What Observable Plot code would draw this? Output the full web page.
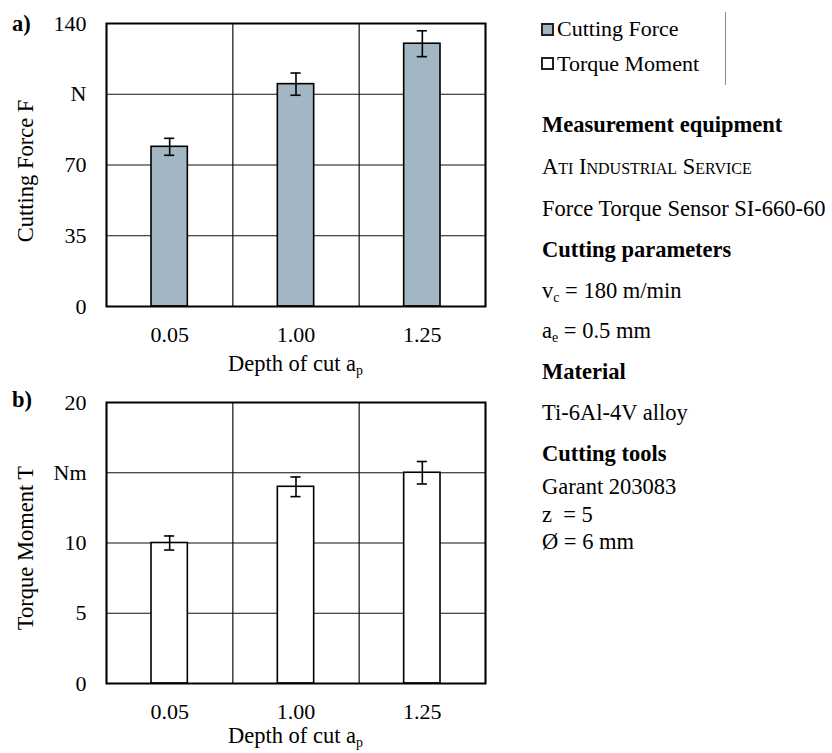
<!DOCTYPE html>
<html>
<head>
<meta charset="utf-8">
<script src="https://cdn.jsdelivr.net/npm/d3@7"></script>
<script src="https://cdn.jsdelivr.net/npm/@observablehq/plot@0.6"></script>
<style>
  html, body { margin: 0; padding: 0; background: #fff; }
  body { width: 832px; height: 753px; position: relative; overflow: hidden;
         font-family: "Liberation Serif", "Times New Roman", serif; font-size: 22.5px; color: #000; }
  .abs { position: absolute; white-space: nowrap; line-height: 24px; }
  .b { font-weight: bold; }
  sub { font-size: 0.62em; vertical-align: -0.3em; line-height: 0; }
  .sq { position: absolute; width: 9px; height: 9px; border: 2px solid #222; }
  #c1, #c2 { position: absolute; left: 0; }
  #c1 { top: 0; } #c2 { top: 380px; }
</style>
</head>
<body>
<div id="c1"></div>
<div id="c2"></div>
<script>
// ---- data ----
const depths = ["0.05", "1.00", "1.25"];
const cuttingForce = [79, 110, 130];
const cuttingForceErr = [4.2, 5.5, 6.4];
const torqueMoment = [10.0, 14.0, 15.0];
const torqueMomentErr = [0.5, 0.7, 0.8];
const forceTicks = [0, 35, 70, 105, 140];
const forceTickLabels = ["0", "35", "70", "N", "140"];
const torqueTicks = [0, 5, 10, 15, 20];
const torqueTickLabels = ["0", "5", "10", "Nm", "20"];
const seriesNames = ["Cutting Force", "Torque Moment"];
const seriesColors = ["#a2b6c4", "#ffffff"];

function chart({values, errs, ticks, tickLabels, fill, ylabel, marginTop, marginBottom, height, labelDy}) {
  const data = depths.map((d, i) => ({i, d, v: values[i], e: errs[i]}));
  const bounds = d3.range(depths.length + 1);
  const cap = 0.04;
  return Plot.plot({
    width: 520, height, marginLeft: 106, marginRight: 35, marginTop, marginBottom,
    style: {fontFamily: "'Liberation Serif', serif", fontSize: "22px", color: "#000", background: "transparent", overflow: "visible"},
    x: {domain: [0, depths.length]},
    y: {domain: [ticks[0], ticks[ticks.length - 1]]},
    marks: [
      Plot.ruleY(ticks, {stroke: "#111", strokeWidth: 1.2}),
      Plot.ruleX(bounds, {stroke: "#111", strokeWidth: 1.2}),
      Plot.rectY(data, {x1: d => d.i, x2: d => d.i + 1, y: "v", insetLeft: 45, insetRight: 45, fill, stroke: "#000", strokeWidth: 1.6}),
      Plot.ruleX(data, {x: d => d.i + 0.5, y1: d => d.v - d.e, y2: d => d.v + d.e, stroke: "#000", strokeWidth: 1.6}),
      Plot.ruleY(data, {y: d => d.v + d.e, x1: d => d.i + 0.5 - cap, x2: d => d.i + 0.5 + cap, stroke: "#000", strokeWidth: 1.6}),
      Plot.ruleY(data, {y: d => d.v - d.e, x1: d => d.i + 0.5 - cap, x2: d => d.i + 0.5 + cap, stroke: "#000", strokeWidth: 1.6}),
      Plot.frame({stroke: "#000", strokeWidth: 2}),
      Plot.axisY({ticks, tickFormat: v => tickLabels[ticks.indexOf(v)], tickSize: 0, tickPadding: 20, label: null}),
      Plot.axisX({ticks: depths.map((d, i) => i + 0.5), tickFormat: v => depths[Math.floor(v)], tickSize: 0, tickPadding: 20, label: null}),
      Plot.text([ylabel], {frameAnchor: "left", rotate: -90, textAnchor: "middle", dx: -81, dy: labelDy, fontSize: 22.5})
    ]
  });
}

document.getElementById("c1").append(chart({
  values: cuttingForce, errs: cuttingForceErr, ticks: forceTicks, tickLabels: forceTickLabels,
  fill: seriesColors[0], ylabel: "Cutting Force F", marginTop: 23, marginBottom: 74, height: 380, labelDy: 6
}));
document.getElementById("c2").append(chart({
  values: torqueMoment, errs: torqueMomentErr, ticks: torqueTicks, tickLabels: torqueTickLabels,
  fill: seriesColors[1], ylabel: "Torque Moment T", marginTop: 22, marginBottom: 70, height: 373, labelDy: 5
}));

// ---- annotations (HTML text), positioned by baseline ----
function add(html, left, baseline, cls = "", size = 22.5) {
  const el = document.createElement("div");
  el.className = "abs " + cls;
  el.style.left = left + "px";
  el.style.fontSize = size + "px";
  const content = 1.107 * size;
  el.style.top = (baseline - ((24 - content) / 2 + 0.891 * size)) + "px";
  el.innerHTML = html;
  document.body.append(el);
  return el;
}
add("a)", 12, 32, "b");
add("b)", 12, 408, "b");
const xl1 = add("Depth of cut a<sub>p</sub>", 106, 372);
xl1.style.width = "379px"; xl1.style.textAlign = "center";
const xl2 = add("Depth of cut a<sub>p</sub>", 106, 744);
xl2.style.width = "379px"; xl2.style.textAlign = "center";

// legend
seriesNames.forEach((name, k) => {
  const sq = document.createElement("div");
  sq.className = "sq";
  sq.style.left = "541px";
  sq.style.top = (22.5 + k * 34.5) + "px";
  sq.style.background = seriesColors[k];
  document.body.append(sq);
  add(name, 557, 36 + k * 35, "", 22);
});
const vline = document.createElement("div");
Object.assign(vline.style, {position: "absolute", left: "725px", top: "12px", width: "1px", height: "73px", background: "#888"});
document.body.append(vline);

// info panel
const info = [
  ["Measurement equipment", 133, "b"],
  ["<span style='font-variant:small-caps'>Ati Industrial Service</span>", 175, ""],
  ["Force Torque Sensor SI-660-60", 217, ""],
  ["Cutting parameters", 258, "b"],
  ["v<sub>c</sub> = 180 m/min", 299, ""],
  ["a<sub>e</sub> = 0.5 mm", 339, ""],
  ["Material", 380, "b"],
  ["Ti-6Al-4V alloy", 421, ""],
  ["Cutting tools", 462, "b"],
  ["Garant 203083", 495, ""],
  ["z&nbsp; = 5", 523, ""],
  ["Ø = 6 mm", 550, ""]
];
info.forEach(([t, y, c]) => add(t, 542, y, c));
</script>
</body>
</html>
